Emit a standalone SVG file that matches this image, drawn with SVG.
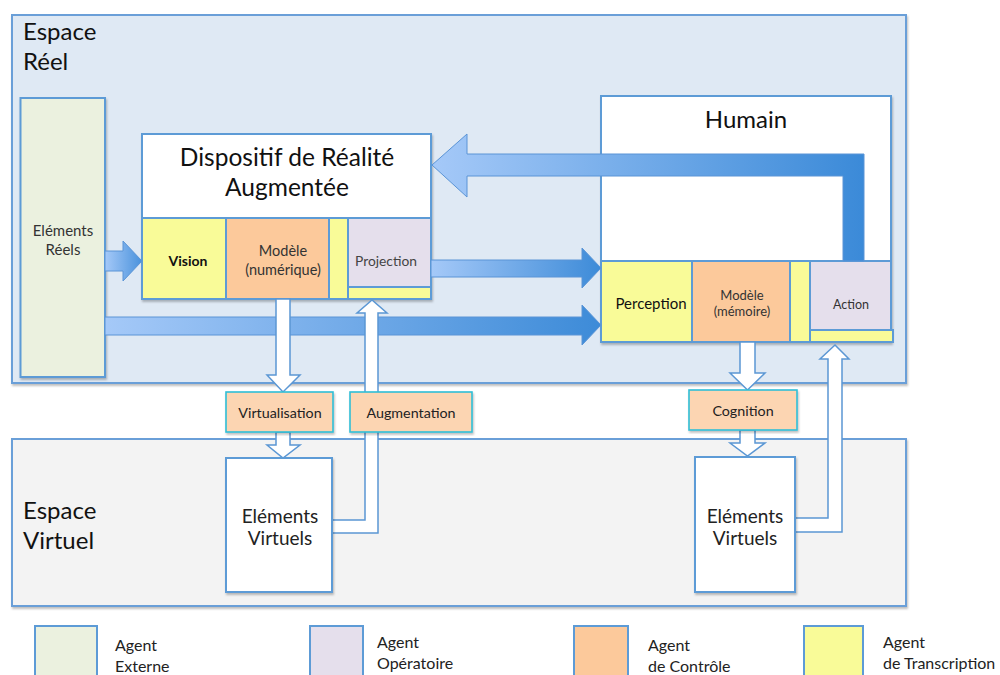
<svg xmlns="http://www.w3.org/2000/svg" width="1000" height="675" viewBox="0 0 1000 675">
<defs>
<style>
text{font-family:Lato,"Open Sans","Liberation Sans",sans-serif;fill:#111}
.box{stroke:#5d9bd6;stroke-width:2}
.sp{stroke:#6a9fd8;stroke-width:2}
.yel{fill:#f9fb98}
.pea{fill:#fcc99b}
.lav{fill:#e5dfec}
.grn{fill:#ebf1df}
.lbl{fill:#fcd5b2;stroke:#30bfd6;stroke-width:1.6}
.warr{fill:#fff;stroke:#5b97d4;stroke-width:1.5}
.barr{stroke:#5a94d6;stroke-width:1}
.c{text-anchor:middle}
.lg{font-size:16px;fill:#222}
</style>
<filter id="sh" x="-5%" y="-5%" width="110%" height="115%">
<feDropShadow dx="1" dy="2" stdDeviation="1.2" flood-color="#000" flood-opacity="0.25"/>
</filter>
<linearGradient id="gL" gradientUnits="userSpaceOnUse" x1="432" y1="0" x2="864" y2="0">
<stop offset="0" stop-color="#a5c9f8"/><stop offset="1" stop-color="#3b8ad8"/>
</linearGradient>
<linearGradient id="gA" gradientUnits="userSpaceOnUse" x1="431" y1="0" x2="601" y2="0">
<stop offset="0" stop-color="#a5c9f8"/><stop offset="1" stop-color="#3d8bd8"/>
</linearGradient>
<linearGradient id="gB" gradientUnits="userSpaceOnUse" x1="105" y1="0" x2="601" y2="0">
<stop offset="0" stop-color="#a5c9f8"/><stop offset="1" stop-color="#3d8bd8"/>
</linearGradient>
<linearGradient id="gC" gradientUnits="userSpaceOnUse" x1="105" y1="0" x2="142" y2="0">
<stop offset="0" stop-color="#a5c9f8"/><stop offset="1" stop-color="#4a92dc"/>
</linearGradient>
</defs>

<g id="espace-reel">
<rect x="12" y="15" width="894" height="368" fill="#dfe9f4" class="sp" filter="url(#sh)"/>
<text x="23" y="40" font-size="24">Espace</text>
<text x="23" y="70" font-size="24">Réel</text>
</g>

<g id="espace-virtuel">
<rect x="12" y="439" width="894" height="167" fill="#f3f3f3" class="sp" filter="url(#sh)"/>
<text x="23" y="519" font-size="24">Espace</text>
<text x="23" y="549" font-size="24">Virtuel</text>
</g>

<g id="elements-reels">
<rect x="20.5" y="98" width="84.5" height="279" class="box grn" filter="url(#sh)"/>
<text x="63" y="236" font-size="15" class="c" style="fill:#333">Eléments</text>
<text x="63" y="255" font-size="15" class="c" style="fill:#333">Réels</text>
</g>

<g id="dispositif">
<rect x="142" y="134" width="289" height="165" fill="#fff" class="box" filter="url(#sh)"/>
<text x="287" y="166" font-size="24.5" class="c">Dispositif de Réalité</text>
<text x="287" y="196" font-size="24.5" class="c">Augmentée</text>
<rect x="142" y="218" width="84" height="81" class="box yel"/>
<rect x="226" y="218" width="103" height="81" class="box pea"/>
<rect x="329" y="218" width="19" height="81" class="box yel"/>
<rect x="348" y="218" width="83" height="69" class="box lav"/>
<rect x="348" y="287" width="83" height="12" class="box yel"/>
<text x="188" y="266" font-size="14" font-weight="bold" class="c">Vision</text>
<text x="283" y="256" font-size="14.5" class="c" style="fill:#333">Modèle</text>
<text x="283" y="275" font-size="14.5" class="c" style="fill:#333">(numérique)</text>
<text x="386" y="266" font-size="13.8" class="c" style="fill:#444">Projection</text>
</g>

<g id="humain">
<rect x="601" y="96" width="290" height="246" fill="#fff" class="box" filter="url(#sh)"/>
<text x="746" y="128" font-size="24" class="c">Humain</text>
<rect x="601" y="261" width="91" height="81" class="box yel"/>
<rect x="692" y="261" width="98" height="81" class="box pea"/>
<rect x="790" y="261" width="20" height="81" class="box yel"/>
<rect x="810" y="261" width="81" height="69" class="box lav"/>
<rect x="810" y="330" width="83" height="12" class="box yel"/>
<text x="651" y="309" font-size="15" class="c">Perception</text>
<text x="742" y="300" font-size="13" class="c" style="fill:#333">Modèle</text>
<text x="742" y="316" font-size="13" class="c" style="fill:#333">(mémoire)</text>
<text x="851" y="309" font-size="12.5" class="c" style="fill:#333">Action</text>
</g>

<g id="connectors">
<path class="barr" fill="url(#gL)" d="M432,165 L467,134 L467,154 L864,154 L864,261 L843,261 L843,176 L467,176 L467,197 Z"/>
<path class="barr" fill="url(#gA)" d="M431,260 L582,260 L582,248 L601,268 L582,288 L582,277 L431,277 Z"/>
<path class="barr" fill="url(#gB)" d="M105,317 L582,317 L582,305 L601,325 L582,345 L582,335 L105,335 Z"/>
<path class="barr" fill="url(#gC)" d="M105,251 L123,251 L123,241 L142,261 L123,281 L123,271 L105,271 Z"/>
<path class="warr" d="M276,299 L290,299 L290,375 L300,375 L283,392 L267,375 L276,375 Z"/>
<path class="warr" d="M276,432 L290,432 L290,445 L300,445 L283,458 L267,445 L276,445 Z"/>
<path class="warr" d="M332,520 L365,520 L365,313 L357,313 L372,300 L387,313 L378,313 L378,533 L332,533 Z"/>
<path class="warr" d="M740,342 L755,342 L755,373 L765,373 L747.5,390 L730,373 L740,373 Z"/>
<path class="warr" d="M740,430 L755,430 L755,443 L765,443 L747.5,456 L730,443 L740,443 Z"/>
<path class="warr" d="M795,518 L828,518 L828,359 L820,359 L835,345 L849,359 L842,359 L842,532 L795,532 Z"/>
</g>

<g id="virtualisation">
<rect x="226" y="392" width="107" height="40" class="lbl" filter="url(#sh)"/>
<text x="280" y="418" font-size="14.3" class="c" style="fill:#222">Virtualisation</text>
</g>
<g id="augmentation">
<rect x="350" y="392" width="122" height="40" class="lbl" filter="url(#sh)"/>
<text x="411" y="418" font-size="14.3" class="c" style="fill:#222">Augmentation</text>
</g>
<g id="cognition">
<rect x="689" y="390" width="108" height="40" class="lbl" filter="url(#sh)"/>
<text x="743" y="416" font-size="14.3" class="c" style="fill:#222">Cognition</text>
</g>

<g id="elements-virtuels-1">
<rect x="226" y="458" width="106" height="134" fill="#fff" class="box" filter="url(#sh)"/>
<text x="280" y="523" font-size="19" class="c" style="fill:#222">Eléments</text>
<text x="280" y="545" font-size="19" class="c" style="fill:#222">Virtuels</text>
</g>
<g id="elements-virtuels-2">
<rect x="695" y="457" width="100" height="135" fill="#fff" class="box" filter="url(#sh)"/>
<text x="745" y="523" font-size="19" class="c" style="fill:#222">Eléments</text>
<text x="745" y="545" font-size="19" class="c" style="fill:#222">Virtuels</text>
</g>

<g id="legend">
<rect x="35" y="626" width="62" height="60" class="box grn"/>
<text x="115" y="651" class="lg">Agent</text>
<text x="115" y="672" class="lg">Externe</text>
<rect x="310" y="626" width="53" height="60" class="box lav"/>
<text x="377" y="648" class="lg">Agent</text>
<text x="377" y="669" class="lg">Opératoire</text>
<rect x="574" y="626" width="54" height="60" class="box pea"/>
<text x="648" y="651" class="lg">Agent</text>
<text x="648" y="672" class="lg">de Contrôle</text>
<rect x="804" y="626" width="59" height="60" class="box yel"/>
<text x="883" y="648" class="lg">Agent</text>
<text x="883" y="669" class="lg">de Transcription</text>
</g>
</svg>
